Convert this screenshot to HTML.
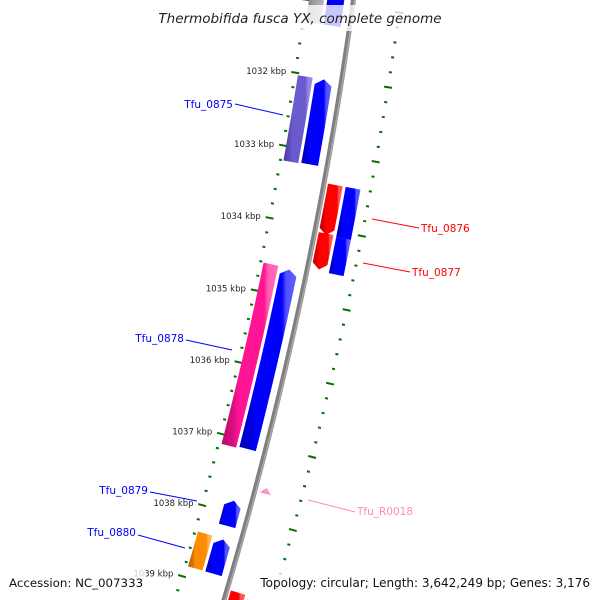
<!DOCTYPE html>
<html><head><meta charset="utf-8"><style>
html,body{margin:0;padding:0;background:#fff;overflow:hidden;width:600px;height:600px;}
svg{display:block;font-family:"DejaVu Sans","Liberation Sans",sans-serif;overflow:hidden;}
</style></head><body>
<svg id="chart" width="600" height="600" viewBox="0 0 600 600" xmlns="http://www.w3.org/2000/svg">
<defs>
<clipPath id="frame"><rect x="0" y="0" width="600" height="600"/></clipPath>
<linearGradient id="g-blue" x1="0" y1="0" x2="1" y2="0"><stop offset="0" stop-color="#0000b8"/><stop offset="0.2" stop-color="#0000d8"/><stop offset="0.3" stop-color="#0000ff"/><stop offset="0.75" stop-color="#0000ff"/><stop offset="0.82" stop-color="#5050ff"/><stop offset="1" stop-color="#6060ff"/></linearGradient>
<linearGradient id="g-purple" x1="0" y1="0" x2="1" y2="0"><stop offset="0" stop-color="#4a3c9c"/><stop offset="0.2" stop-color="#5a4ab8"/><stop offset="0.3" stop-color="#6a5acd"/><stop offset="0.75" stop-color="#6a5acd"/><stop offset="0.82" stop-color="#8e80e0"/><stop offset="1" stop-color="#9a8ce8"/></linearGradient>
<linearGradient id="g-pink" x1="0" y1="0" x2="1" y2="0"><stop offset="0" stop-color="#b80a68"/><stop offset="0.2" stop-color="#d81080"/><stop offset="0.3" stop-color="#ff1493"/><stop offset="0.75" stop-color="#ff1493"/><stop offset="0.82" stop-color="#ff5cb2"/><stop offset="1" stop-color="#ff70bc"/></linearGradient>
<linearGradient id="g-red" x1="0" y1="0" x2="1" y2="0"><stop offset="0" stop-color="#c00000"/><stop offset="0.2" stop-color="#e00000"/><stop offset="0.3" stop-color="#ff0000"/><stop offset="0.75" stop-color="#ff0000"/><stop offset="0.82" stop-color="#ff5050"/><stop offset="1" stop-color="#ff6060"/></linearGradient>
<linearGradient id="g-orange" x1="0" y1="0" x2="1" y2="0"><stop offset="0" stop-color="#b86000"/><stop offset="0.2" stop-color="#d87400"/><stop offset="0.3" stop-color="#ff8c00"/><stop offset="0.75" stop-color="#ff8c00"/><stop offset="0.82" stop-color="#ffae50"/><stop offset="1" stop-color="#ffb860"/></linearGradient>
<linearGradient id="g-gray" x1="0" y1="0" x2="1" y2="0"><stop offset="0" stop-color="#777"/><stop offset="0.3" stop-color="#999"/><stop offset="0.8" stop-color="#bbb"/><stop offset="1" stop-color="#bbb"/></linearGradient>
<linearGradient id="g-cyan" x1="0" y1="0" x2="1" y2="0"><stop offset="0" stop-color="#00b8b8"/><stop offset="0.3" stop-color="#00ffff"/><stop offset="1" stop-color="#60ffff"/></linearGradient>
<linearGradient id="g-rpink" x1="0" y1="0" x2="1" y2="0"><stop offset="0" stop-color="#ff80c0"/><stop offset="1" stop-color="#ffa0d0"/></linearGradient>
</defs>
<g clip-path="url(#frame)">
<g id="backbone-layer"></g>
<g id="tick-layer"></g>
<g id="feature-layer"></g>
<g id="label-layer">
  <line x1="235" y1="104" x2="283" y2="115" stroke="#0000ff" stroke-width="1"/>
  <text x="233" y="108" text-anchor="end" font-size="10.5" fill="#0000ff">Tfu_0875</text>
  <line x1="372" y1="219" x2="419" y2="228" stroke="#ff0000" stroke-width="1"/>
  <text x="421" y="232" font-size="10.5" fill="#ff0000">Tfu_0876</text>
  <line x1="363" y1="263" x2="410" y2="272" stroke="#ff0000" stroke-width="1"/>
  <text x="412" y="276" font-size="10.5" fill="#ff0000">Tfu_0877</text>
  <line x1="186" y1="340" x2="232" y2="350" stroke="#0000ff" stroke-width="1"/>
  <text x="184" y="342" text-anchor="end" font-size="10.5" fill="#0000ff">Tfu_0878</text>
  <line x1="150" y1="492" x2="197" y2="501" stroke="#0000ff" stroke-width="1"/>
  <text x="148" y="494" text-anchor="end" font-size="10.5" fill="#0000ff">Tfu_0879</text>
  <line x1="138" y1="535" x2="185" y2="548" stroke="#0000ff" stroke-width="1"/>
  <text x="136" y="536" text-anchor="end" font-size="10.5" fill="#0000ff">Tfu_0880</text>
  <line x1="308" y1="500" x2="355" y2="512" stroke="#ff88c4" stroke-width="1"/>
  <text x="357" y="515" font-size="10.5" fill="#ff88c4">Tfu_R0018</text>
</g>
<rect x="156" y="5" width="290" height="26" fill="#fff" opacity="0.78"/>
<rect x="6" y="568" width="140" height="24" fill="#fff" opacity="0.78"/>
<rect x="257" y="568" width="337" height="24" fill="#fff" opacity="0.78"/>
<text x="300" y="23" text-anchor="middle" font-size="13.5" font-style="italic" fill="#222">Thermobifida fusca YX, complete genome</text>
<text x="9" y="587" font-size="11.8" fill="#111">Accession: NC_007333</text>
<text x="590" y="587" text-anchor="end" font-size="12" fill="#111">Topology: circular; Length: 3,642,249 bp; Genes: 3,176</text>
</g>
</svg>
<script>
// ---- data ----
var featureNames  = ["top-gray","top-blue","Tfu_0875","Tfu_0875-cds","Tfu_0876","Tfu_0877","Tfu_0876-cds","Tfu_0877-cds","Tfu_0878","Tfu_0878-cds","Tfu_R0018","Tfu_0879-cds","Tfu_0880","Tfu_0880-cds","bottom-red","bottom-cyan"];
var featureStarts = [1030.4, 1030.4, 1032.03, 1032.03, 1033.40, 1034.06, 1033.40, 1034.08, 1034.61, 1034.63, 1037.55, 1037.83, 1038.36, 1038.37, 1039.00, 1039.05];
var featureEnds   = [1031.30, 1031.30, 1033.20, 1033.19, 1034.08, 1034.55, 1034.08, 1034.57, 1037.13, 1037.11, 1037.63, 1038.18, 1038.85, 1038.85, 1039.6, 1039.6];
var featureTracks = ["left-outer","left-inner","left-outer","left-inner","right-inner","right-inner","right-outer","right-outer","left-outer","left-inner","right-small","left-inner","left-outer","left-inner","right-inner","right-outer"];
var featureStrand = ["none","none","none","up","down","down","none","none","none","up","up","up","none","up","none","none"];
var featureColors = ["g-gray","g-blue","g-purple","g-blue","g-red","g-red","g-blue","g-blue","g-pink","g-blue","g-rpink","g-blue","g-orange","g-blue","g-red","g-cyan"];
var tickStart = 1030.6;
var tickEnd = 1039.6;
var tickStep = 0.2;
var majorLabels = ["1032 kbp","1033 kbp","1034 kbp","1035 kbp","1036 kbp","1037 kbp","1038 kbp","1039 kbp"];
var majorValues = [1032,1033,1034,1035,1036,1037,1038,1039];

// ---- geometry (circular axis) ----
var CX = -3625.5, CY = -544.5, R = 4016;
var trackR = {"left-outer":[R-44,R-29],"left-inner":[R-26,R-9],"right-inner":[R+4,R+19],"right-outer":[R+22,R+37],"right-small":[R+5,R+17]};
function angleOf(k){ return (11.075 + 1.065*(k-1034))*Math.PI/180; }
function polar(k,r){ var a=angleOf(k); return [CX + r*Math.cos(a), CY + r*Math.sin(a)]; }
var NS="http://www.w3.org/2000/svg";
function mk(tag,parent){ var e=document.createElementNS(NS,tag); parent.appendChild(e); return e; }

var bb = document.getElementById('backbone-layer');
(function(){
  var d=""; for(var k=1030.2;k<=1039.8001;k+=0.1){ var p=polar(k,R); d+=(d?"L":"M")+p[0].toFixed(2)+","+p[1].toFixed(2); }
  var p1=mk('path',bb);
  
  
  p1.setAttribute('d',d); p1.setAttribute('fill','none'); p1.setAttribute('stroke','#808080'); p1.setAttribute('stroke-width','5');
  var d2=""; for(var k2=1030.2;k2<=1039.8001;k2+=0.1){ var q=polar(k2,R+1.3); d2+=(d2?"L":"M")+q[0].toFixed(2)+","+q[1].toFixed(2); }
  var p2=mk('path',bb);
  
  
  p2.setAttribute('d',d2); p2.setAttribute('fill','none'); p2.setAttribute('stroke','#a8a8a8'); p2.setAttribute('stroke-width','1.5');
})();

var tl = document.getElementById('tick-layer');
var nT = Math.round((tickEnd-tickStart)/tickStep);
for (var i=0;i<=nT;i++){
  var k = tickStart + i*tickStep;
  var major = Math.abs(k-Math.round(k))<1e-6;
  var len = major?4:1.5;
  [R-47,R+47].forEach(function(rc){
    var a=polar(k,rc-len), b=polar(k,rc+len);
    var ln=mk('line',tl);
    
    
    ln.setAttribute('x1',a[0]); ln.setAttribute('y1',a[1]); ln.setAttribute('x2',b[0]); ln.setAttribute('y2',b[1]);
    ln.setAttribute('stroke','#007000'); ln.setAttribute('stroke-width','2');
  });
}
for (var j=0;j<majorValues.length;j++){
  var p=polar(majorValues[j],R-56);
  var t=mk('text',tl);
  
  
  t.setAttribute('x',p[0].toFixed(1)); t.setAttribute('y',(p[1]+3).toFixed(1));
  t.setAttribute('text-anchor','end'); t.setAttribute('font-size','8.5'); t.setAttribute('fill','#222');
  t.textContent=majorLabels[j];
}

var fl = document.getElementById('feature-layer');
for (var f=0;f<featureNames.length;f++){
  var s=featureStarts[f], e=featureEnds[f], rr=trackR[featureTracks[f]], r1=rr[0], r2=rr[1], rm=(r1+r2)/2;
  var head=0.08, pts=[], N=8, st=featureStrand[f];
  if (featureTracks[f]==="right-small"){ head=e-s; }
  var a0 = st==="up"? s+head : s;
  var a1 = st==="down"? e-head : e;
  if (st==="up") pts.push(polar(s,rm));
  for (var n=0;n<=N;n++){ pts.push(polar(a0+(a1-a0)*n/N, r1)); }
  if (st==="down") pts.push(polar(e,rm));
  for (var n2=N;n2>=0;n2--){ pts.push(polar(a0+(a1-a0)*n2/N, r2)); }
  var pg=mk('polygon',fl);
  
  
  pg.setAttribute('points', pts.map(function(q){return q[0].toFixed(2)+","+q[1].toFixed(2);}).join(" "));
  pg.setAttribute('fill','url(#'+featureColors[f]+')');
}
</script>
</body></html>
